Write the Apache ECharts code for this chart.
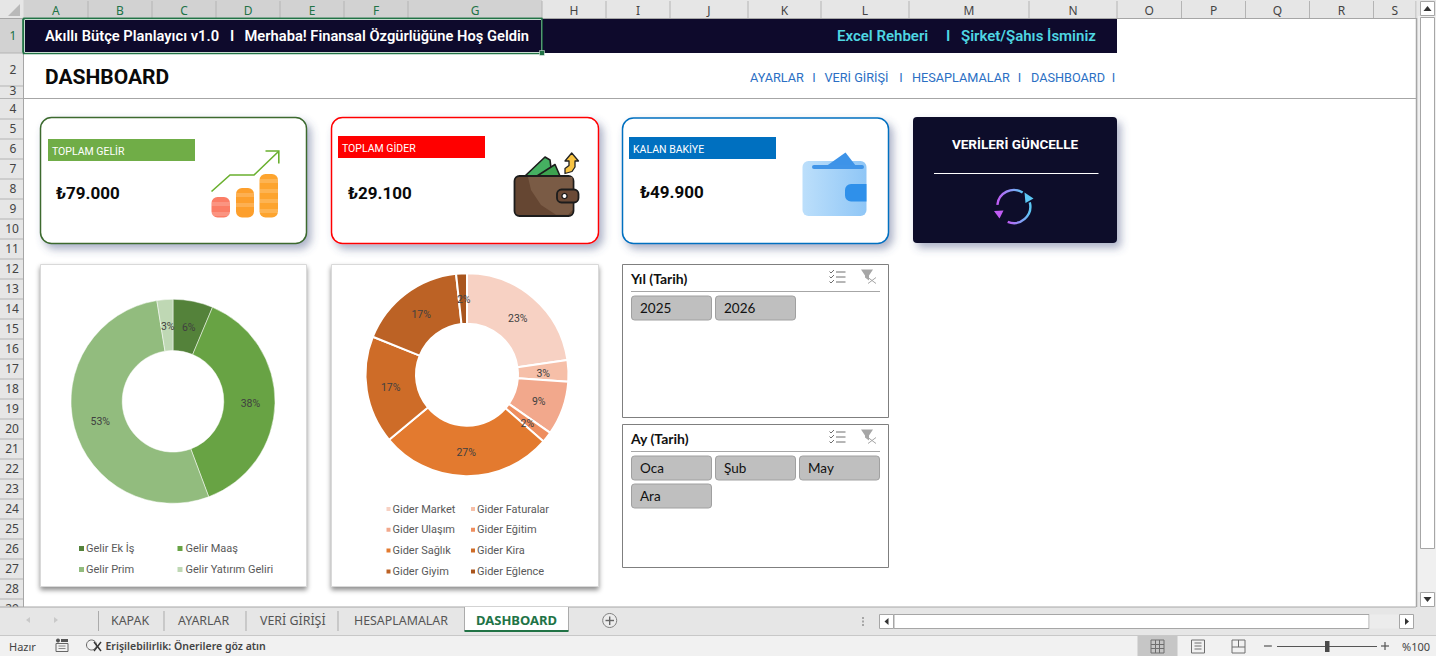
<!DOCTYPE html>
<html>
<head>
<meta charset="utf-8">
<title>Dashboard</title>
<style>
  html, body { margin: 0; padding: 0; background: #fff; overflow: hidden; }
  #main { width: 1436px; height: 656px; }
</style>
<script src="https://cdn.jsdelivr.net/npm/echarts@6/dist/echarts.min.js"></script>
</head>
<body>
<div id="main"></div>
<script>
// gelir / gider verileri
const incomeNames = ['Gelir Ek İş', 'Gelir Maaş', 'Gelir Prim', 'Gelir Yatırım Geliri'];
const incomeValues = [5000, 30000, 42000, 2000];
const incomeColors = ['#54823a', '#68a344', '#92bc7e', '#bfd8b4'];
const incomeLabelNudge = [[0, 4], [-2, 1], [4, 0], [1, 4]];

const expenseNames = ['Gider Market', 'Gider Faturalar', 'Gider Ulaşım', 'Gider Eğitim', 'Gider Sağlık', 'Gider Kira', 'Gider Giyim', 'Gider Eğlence'];
const expenseValues = [6600, 1000, 2500, 500, 8000, 5000, 5000, 500];
const expenseColors = ['#f7d1c3', '#f6bfa8', '#f2a88c', '#ee8e5f', '#e37a2f', '#ce6c28', '#bc6225', '#a9551d'];
const expenseLabelNudge = [[-1, 4], [-3, 2], [-3, 0], [-2, 0], [0, -1], [2, 0], [2, 3], [1, 4]];

const columnNames = ['A', 'B', 'C', 'D', 'E', 'F', 'G', 'H', 'I', 'J', 'K', 'L', 'M', 'N', 'O', 'P', 'Q', 'R', 'S'];
const columnEdges = [23.5, 88, 152, 216, 280, 344, 408, 542, 606, 670, 748, 821, 909, 1029, 1117, 1181.5, 1245.5, 1309.5, 1373.5, 1416];
const rowEdges = [19, 53, 86, 98.5, 119, 139, 159, 179, 199, 219, 239, 259, 279, 299, 319, 339, 359, 379, 399, 419, 439, 459, 479, 499, 519, 539, 559, 579, 599, 619];

const yearButtons = ['2025', '2026'];
const monthButtons = ['Oca', 'Şub', 'May', 'Ara'];
const sheetTabs = ['KAPAK', 'AYARLAR', 'VERİ GİRİŞİ', 'HESAPLAMALAR'];
const sheetTabX = [111, 178, 260, 354];
const sheetTabSeps = [98.5, 164, 246, 338];
const navLinks = ['AYARLAR', 'VERİ GİRİŞİ', 'HESAPLAMALAR', 'DASHBOARD'];
const navLinkX = [750, 824.5, 912, 1031];
const navSepX = [814, 901, 1019.5, 1113.5];

const DIN = 'Roboto';
const NAVY = '#0e0a2c';
const GREEN = '#217346';

let g = [];

let rect = (x, y, w, h, fill, extra) => {
    g.push(Object.assign({ type: 'rect', shape: { x: x, y: y, width: w, height: h, r: (extra && extra.r) || 0 }, style: { fill: fill, stroke: (extra && extra.stroke) || null, lineWidth: (extra && extra.lw) || 0, shadowBlur: (extra && extra.blur) || 0, shadowColor: (extra && extra.shadow) || 'transparent', shadowOffsetX: (extra && extra.ox) || 0, shadowOffsetY: (extra && extra.oy) || 0 }, silent: true }));
};
let txt = (x, y, text, font, fill, align) => {
    g.push({ type: 'text', x: x, y: y, silent: true, style: { text: text, font: font, fill: fill, align: align || 'left', verticalAlign: 'middle' } });
};
let line = (x1, y1, x2, y2, stroke, lw) => {
    g.push({ type: 'line', silent: true, shape: { x1: x1, y1: y1, x2: x2, y2: y2 }, style: { stroke: stroke, lineWidth: lw || 1 } });
};
let poly = (points, fill, stroke, lw) => {
    g.push({ type: 'polygon', silent: true, shape: { points: points }, style: { fill: fill, stroke: stroke || null, lineWidth: lw || 0, lineJoin: 'round' } });
};
let pline = (points, stroke, lw) => {
    g.push({ type: 'polyline', silent: true, shape: { points: points }, style: { fill: null, stroke: stroke, lineWidth: lw } });
};
let circle = (cx, cy, r, fill, stroke, lw) => {
    g.push({ type: 'circle', silent: true, shape: { cx: cx, cy: cy, r: r }, style: { fill: fill, stroke: stroke || null, lineWidth: lw || 0 } });
};

// excel baslik satiri ve sutunlar
rect(0, 0, 1436, 656, '#ffffff');
rect(0, 0, 1436, 18.5, '#e6e6e6');
rect(0, 0, 23.5, 607, '#e6e6e6');
poly([[20, 4], [20, 16], [8, 16]], '#b9b9b9');
rect(23.5, 0, 518.5, 18, '#d2d2d2');
rect(0, 19, 23, 34, '#d2d2d2');
columnNames.forEach((name, i) => {
    let selected = i < 7;
    let mid = (columnEdges[i] + columnEdges[i + 1]) / 2;
    line(columnEdges[i + 1], 1, columnEdges[i + 1], 18, '#b4b4b4');
    txt(mid, 10, name, '12px "Noto Sans"', selected ? GREEN : '#444444', 'center');
});
line(0, 18.5, 1416, 18.5, '#a6a6a6');
line(23.5, 18.5, 542, 18.5, GREEN, 1.5);
line(23.5, 19, 23.5, 607, '#a6a6a6');
line(23, 19, 23, 53, GREEN, 1.5);
rowEdges.slice(0, -1).forEach((y, i) => {
    let mid = (y + rowEdges[i + 1]) / 2;
    line(0, rowEdges[i + 1], 23, rowEdges[i + 1], '#b4b4b4');
    txt(i < 9 ? 13 : 12, i == 2 ? mid - 2 : mid - 0.5, String(i + 1), '12px "Noto Sans"', i == 0 ? GREEN : '#444444', 'center');
});

// ust bant
rect(23.5, 19, 1093.5, 34, NAVY);
rect(24.5, 19.5, 517, 33, NAVY, { stroke: '#ffffff', lw: 1 });
rect(23.5, 18.5, 518.5, 35, 'none', { stroke: GREEN, lw: 1.5 });
rect(539.5, 50.5, 5, 5, GREEN, { stroke: '#ffffff', lw: 0.5 });
const bannerFont = '600 14.7px ' + DIN;
txt(45, 36, 'Akıllı Bütçe Planlayıcı v1.0', bannerFont, '#ffffff');
txt(230, 36, 'I', bannerFont, '#ffffff');
txt(244.5, 36, 'Merhaba! Finansal Özgürlüğüne Hoş Geldin', bannerFont, '#ffffff');
const bannerRightFont = '600 15px ' + DIN;
txt(837, 36, 'Excel Rehberi', bannerRightFont, '#4fd6e2');
txt(946, 36, 'I', bannerRightFont, '#4fd6e2');
txt(961, 36, 'Şirket/Şahıs İsminiz', bannerRightFont, '#4fd6e2');
txt(45, 77, 'DASHBOARD', 'bold 21px ' + DIN, '#0a0a0a');
navLinks.forEach((name, i) => {
    txt(navLinkX[i], 77.5, name, '12.7px ' + DIN, '#2b6fc4');
    txt(navSepX[i], 77.5, 'I', '12.7px ' + DIN, '#2b6fc4', 'center');
});
line(23.5, 98.5, 1416, 98.5, '#a6a6a6');

// kartlar
const cardShadow = { blur: 9, shadow: 'rgba(68,84,130,0.45)', ox: 4, oy: 5, r: 11, lw: 1.5 };
rect(40.5, 117.5, 266, 126, '#ffffff', Object.assign({}, cardShadow, { stroke: '#3c6a2e' }));
rect(331.5, 117.5, 267, 126, '#ffffff', Object.assign({}, cardShadow, { stroke: '#ff0000' }));
rect(622.5, 118, 266, 125.5, '#ffffff', Object.assign({}, cardShadow, { stroke: '#0070c0' }));
rect(913, 117, 204, 126, NAVY, Object.assign({}, cardShadow, { r: 4, lw: 0 }));

rect(48, 139, 147, 22, '#70ad47');
txt(52, 151, 'TOPLAM GELİR', '10.5px ' + DIN, '#ffffff');
rect(338, 136, 147, 22, '#ff0000');
txt(342, 148, 'TOPLAM GİDER', '10.5px ' + DIN, '#ffffff');
rect(629, 137, 147, 22, '#0070c0');
txt(633, 149, 'KALAN BAKİYE', '10.5px ' + DIN, '#ffffff');
txt(56, 193, '₺79.000', 'bold 17px ' + DIN, '#0a0a0a');
txt(348, 193, '₺29.100', 'bold 17px ' + DIN, '#0a0a0a');
txt(640, 192, '₺49.900', 'bold 17px ' + DIN, '#0a0a0a');

// para ikonu
[[211.5, 18.5, 197, '#fb7d66'], [236, 18, 188, '#fd9f2c'], [259.5, 18.5, 174, '#fda42e']].forEach(c => {
    rect(c[0], c[2], c[1], 217.5 - c[2], c[3], { r: 6 });
    for (let y = c[2] + 5; y < 213; y += 10) {
        rect(c[0], y, c[1], 4, 'rgba(255,255,255,0.18)');
    }
});
pline([[211.5, 191.5], [230, 175], [254, 175], [278.5, 151.5]], '#6ab02f', 1.6);
pline([[265.5, 151], [278.8, 151], [278.8, 163.5]], '#6ab02f', 1.6);

// kahverengi cuzdan
poly([[525, 176], [545, 157], [550, 160], [552, 176]], '#45b061', '#1c1c1c', 1.6);
poly([[537, 176], [555, 164.5], [560, 176]], '#3da24f', '#1c1c1c', 1.6);
rect(514.5, 176, 59, 40, '#654632', { r: 5, stroke: '#1c1c1c', lw: 1.8 });
poly([[528, 177], [531, 190], [541, 205], [556, 214.8], [568, 214.8], [572.5, 210], [572.5, 177]], '#7a5b45');
rect(557, 189.5, 21.5, 13, '#6b4a36', { r: 4.5, stroke: '#1c1c1c', lw: 1.8 });
circle(564.5, 196, 2.6, '#ffffff', '#1c1c1c', 1.4);
poly([[571.7, 153], [578.5, 161], [575, 161], [575, 167], [572, 171.5], [565, 173.5], [565, 168.5], [569, 165.5], [569, 161], [565, 161]], '#f8c443', '#222222', 1.3);

// mavi cuzdan
g.push({ type: 'rect', silent: true, shape: { x: 802.5, y: 161, width: 64, height: 55, r: 6 }, style: { fill: { type: 'linear', x: 0, y: 0, x2: 1, y2: 0, colorStops: [{ offset: 0, color: '#bcdffb' }, { offset: 1, color: '#8fc6f6' }] } } });
poly([[825, 167], [845.5, 152.5], [856, 166]], '#3d93e8');
rect(812, 165, 52, 4, '#3f94e8', { r: 2 });
rect(845, 184, 21.5, 17.5, '#2f90ea', { r: [6, 0, 0, 6] });

// guncelle butonu
txt(1015, 143.5, 'VERİLERİ GÜNCELLE', 'bold 13.5px ' + DIN, '#ffffff', 'center');
line(934, 173.5, 1098.5, 173.5, '#ffffff');
const refreshStroke = { type: 'linear', x: 0, y: 0, x2: 1, y2: 0, colorStops: [{ offset: 0, color: '#c05cf5' }, { offset: 1, color: '#5cc8f5' }] };
g.push({ type: 'arc', silent: true, shape: { cx: 1013.8, cy: 206.5, r: 16.5, startAngle: Math.PI * 1.03, endAngle: Math.PI * 1.68, clockwise: true }, style: { fill: null, stroke: refreshStroke, lineWidth: 2.4 } });
g.push({ type: 'arc', silent: true, shape: { cx: 1013.8, cy: 206.5, r: 16.5, startAngle: -Math.PI * 0.08, endAngle: Math.PI * 0.62, clockwise: true }, style: { fill: null, stroke: refreshStroke, lineWidth: 2.4 } });
poly([[994, 211], [1003.5, 210.5], [999.5, 218.5]], '#c05cf5');
poly([[1024.5, 192.5], [1033.5, 198.5], [1025.5, 203]], '#5cc8f5');

// grafik kutulari
const boxStyle = { stroke: '#d9d9d9', lw: 1, blur: 5, shadow: 'rgba(0,0,0,0.45)', ox: 0, oy: 3 };
rect(40.5, 264.5, 266, 322, '#ffffff', boxStyle);
rect(331.5, 264.5, 267, 322, '#ffffff', boxStyle);

// dilimleyiciler
let filterIcons = (y) => {
    for (let i = 0; i < 3; i++) {
        line(836, y + 0.5 + i * 5, 845.5, y + 0.5 + i * 5, '#6e6e6e');
        pline([[829.5, y + i * 5], [831, y + 1.5 + i * 5], [834, y - 1.5 + i * 5]], '#6e6e6e', 1);
    }
    poly([[861, y - 2], [873, y - 2], [869, y + 4], [869, y + 9], [865, y + 6], [865, y + 4]], '#a6a6a6');
    line(868, y + 6, 876, y + 12, '#a6a6a6');
    line(876, y + 6, 868, y + 12, '#a6a6a6');
};
let slicer = (top, height, title, buttons) => {
    rect(622.5, top, 266, height, '#ffffff', { stroke: '#7f7f7f', lw: 1 });
    txt(631, top + 13.5, title, 'bold 14px Lato', '#111111');
    line(631, top + 27, 880, top + 27, '#a6a6a6');
    filterIcons(top + 7);
    buttons.forEach((label, i) => {
        let col = i % 3, row = Math.floor(i / 3);
        let x = 631 + col * 84, y = top + 31 + row * 28;
        rect(x + 0.5, y + 0.5, 80, 24, '#bfbfbf', { stroke: '#a0a0a0', lw: 1, r: 3 });
        txt(x + 9, y + 12.5, label, '13.5px Lato', '#111111');
    });
};
slicer(264.5, 153, 'Yıl (Tarih)', yearButtons);
slicer(424.5, 143, 'Ay (Tarih)', monthButtons);

// dikey kaydirma cubugu
rect(1416.5, 0, 19.5, 607, '#e6e6e6');
line(1416.5, 18, 1416.5, 607, '#a6a6a6', 1.5);
rect(1418, 16, 18, 576, '#f0f0f0');
rect(1420.5, 17.5, 14, 531, '#ffffff', { stroke: '#a6a6a6', lw: 1 });
rect(1420.5, 1.5, 14, 14, '#ffffff', { stroke: '#a6a6a6', lw: 1 });
poly([[1427.5, 6], [1431.5, 11], [1423.5, 11]], '#333333');
rect(1420.5, 592.5, 14, 14, '#ffffff', { stroke: '#a6a6a6', lw: 1 });
poly([[1423.5, 597], [1431.5, 597], [1427.5, 602]], '#333333');

// sekmeler
rect(0, 607, 1436, 29, '#e6e6e6');
line(0, 607, 1416, 607, '#a6a6a6');
poly([[30, 617], [30, 623], [26, 620]], '#c9c9c9');
poly([[54, 617], [54, 623], [58, 620]], '#c9c9c9');
sheetTabs.forEach((name, i) => {
    line(sheetTabSeps[i], 611, sheetTabSeps[i], 631, '#ababab');
    txt(sheetTabX[i], 620, name, '12.4px "Noto Sans"', '#555555');
});
rect(464.5, 607, 104, 24, '#ffffff');
line(464.5, 607, 464.5, 631, '#ababab');
line(568.5, 607, 568.5, 631, '#ababab');
line(464.5, 631, 568.5, 631, GREEN, 2);
txt(516.5, 620, 'DASHBOARD', 'bold 13px "Noto Sans"', GREEN, 'center');
circle(609.7, 620.5, 7, '#ececec', '#7f7f7f', 1);
line(605.5, 620.5, 614, 620.5, '#666666', 1.4);
line(609.7, 616.5, 609.7, 625, '#666666', 1.4);
[617, 620.5, 624].forEach(y => rect(862, y, 2, 2, '#a6a6a6'));
rect(879.5, 614.5, 14, 14, '#ffffff', { stroke: '#a6a6a6', lw: 1 });
poly([[888.5, 618], [888.5, 625], [884.5, 621.5]], '#333333');
rect(894, 614.5, 475, 14, '#ffffff', { stroke: '#a6a6a6', lw: 1 });
rect(1369.5, 614.5, 29.5, 14, '#ececec');
rect(1399.5, 614.5, 14, 14, '#ffffff', { stroke: '#a6a6a6', lw: 1 });
poly([[1405, 618], [1405, 625], [1409, 621.5]], '#333333');

// durum cubugu
rect(0, 635, 1436, 21, '#f1f1f1');
line(0, 635.5, 1436, 635.5, '#c8c8c8');
txt(9, 646, 'Hazır', '11px "Noto Sans"', '#444444');
circle(58, 640.5, 2, '#555555');
rect(61, 639, 7, 3, '#555555');
rect(56, 643.5, 12, 8, '#f1f1f1', { stroke: '#666666', lw: 1 });
line(58.5, 646, 65.5, 646, '#888888');
line(58.5, 648.5, 65.5, 648.5, '#888888');
circle(91.5, 645, 5, 'none', '#666666', 1);
line(94, 642, 101, 651, '#333333', 1.4);
line(101, 642, 94, 651, '#333333', 1.4);
txt(105.5, 646, 'Erişilebilirlik: Önerilere göz atın', '600 10.5px "Noto Sans"', '#444444');
rect(1137.5, 636, 40, 20, '#c6c6c6');
rect(1151, 640, 13, 13, 'none', { stroke: '#6e6e6e', lw: 1 });
line(1155.5, 640, 1155.5, 653, '#6e6e6e');
line(1159.5, 640, 1159.5, 653, '#6e6e6e');
line(1151, 644.5, 1164, 644.5, '#6e6e6e');
line(1151, 648.5, 1164, 648.5, '#6e6e6e');
rect(1191.5, 640, 13, 13, 'none', { stroke: '#6e6e6e', lw: 1 });
[643, 646, 649].forEach(y => line(1194.5, y, 1201.5, y, '#6e6e6e'));
rect(1232, 640, 13, 13, 'none', { stroke: '#6e6e6e', lw: 1 });
line(1232, 647, 1245, 647, '#6e6e6e');
line(1238.5, 640, 1238.5, 647, '#6e6e6e');
line(1264, 646, 1272, 646, '#555555', 1.2);
line(1277, 646.5, 1377, 646.5, '#555555', 1);
rect(1325, 641, 4.5, 11, '#4a4a4a');
line(1381, 646, 1389, 646, '#555555', 1.2);
line(1385, 642, 1385, 650, '#555555', 1.2);
txt(1402, 646, '%100', '11px "Noto Sans"', '#444444');

let legendColumn = (names, left, top, gap, size, shift) => ({
    data: names, left: left, top: top, orient: 'vertical', itemGap: gap, itemWidth: size, itemHeight: size,
    icon: 'rect', selectedMode: false, padding: 0,
    textStyle: { color: '#595959', fontFamily: DIN, fontSize: 11, padding: [0, 0, 0, shift] }
});

let pieSeries = (names, values, colors, nudge, cx, cy, inner, outer, border) => ({
    type: 'pie',
    center: [cx, cy],
    radius: [inner, outer],
    startAngle: 90,
    clockwise: true,
    avoidLabelOverlap: false,
    silent: true,
    itemStyle: { borderColor: '#ffffff', borderWidth: border },
    label: {
        position: 'inside', color: '#404040', fontFamily: DIN, fontSize: 10.5,
        formatter: (p) => Math.round(p.percent) + '%'
    },
    labelLine: { show: false },
    labelLayout: (p) => ({ dx: nudge[p.dataIndex][0], dy: nudge[p.dataIndex][1] }),
    data: names.map((name, i) => ({ name: name, value: values[i], itemStyle: { color: colors[i] } }))
});

const myChart = echarts.init(document.getElementById('main'), null, { renderer: 'svg', width: 1436, height: 656 });
myChart.setOption({
    animation: false,
    backgroundColor: '#ffffff',
    tooltip: { show: false },
    graphic: { elements: g },
    legend: [
        legendColumn([incomeNames[0], incomeNames[2]], 77, 543, 10, 7, -4),
        legendColumn([incomeNames[1], incomeNames[3]], 175.5, 543, 10, 7, -3),
        legendColumn([expenseNames[0], expenseNames[2], expenseNames[4], expenseNames[6]], 384.5, 503.5, 9.8, 6, -4),
        legendColumn([expenseNames[1], expenseNames[3], expenseNames[5], expenseNames[7]], 469, 503.5, 9.8, 6, -4)
    ],
    series: [
        pieSeries(incomeNames, incomeValues, incomeColors, incomeLabelNudge, 173, 401.3, 50.8, 102, 0.5),
        pieSeries(expenseNames, expenseValues, expenseColors, expenseLabelNudge, 467, 374.7, 51, 101.5, 2)
    ]
});
</script>
</body>
</html>
